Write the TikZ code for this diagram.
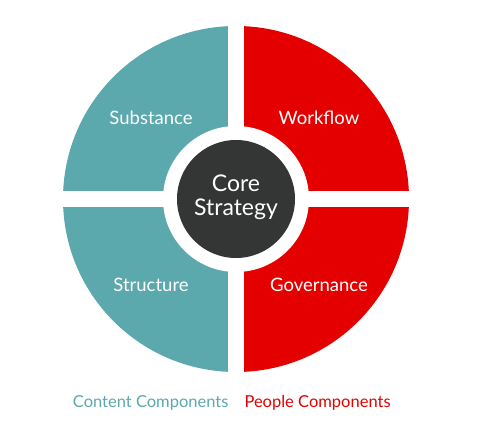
\documentclass[tikz,border=0pt]{standalone}
\usepackage{fontspec}
\setmainfont{Lato}
\definecolor{tealc}{HTML}{5BA8AD}
\definecolor{redc}{HTML}{E50000}
\definecolor{darkc}{HTML}{333635}
\begin{document}
\begin{tikzpicture}[x=1pt,y=1pt,
  quadlabel/.style={text=white,font=\fontsize{18.5}{22}\selectfont},
  legend/.style={font=\fontsize{16.5}{20}\selectfont}]
\useasboundingbox (0,0) rectangle (482,429);
\coordinate (c) at (236,230);
% halves
\fill[tealc] (236,403) arc[start angle=90,end angle=270,radius=173] -- cycle;
\fill[redc] (236,403) arc[start angle=90,end angle=-90,radius=173] -- cycle;
% gaps
\fill[white] (228,50) rectangle (244,410);
\fill[white] (55,222) rectangle (417,238);
% center
\fill[white] (c) circle[radius=73];
\fill[darkc] (c) circle[radius=59];
% labels
\node[quadlabel] (sub) at (151,311) {Substance};
\node[quadlabel] (wf) at (319,311) {Workflow};
\node[quadlabel] (str) at (151,144) {Structure};
\node[quadlabel] (gov) at (319,144) {Governance};
\node[text=white,align=center,font=\fontsize{23}{24}\selectfont] (core) at (236,232) {Core\\Strategy};
\node[legend,text=tealc,anchor=east] (cc) at (232,26) {Content Components};
\node[legend,text=redc,anchor=west] (pc) at (241,26) {People Components};
\end{tikzpicture}
\end{document}
